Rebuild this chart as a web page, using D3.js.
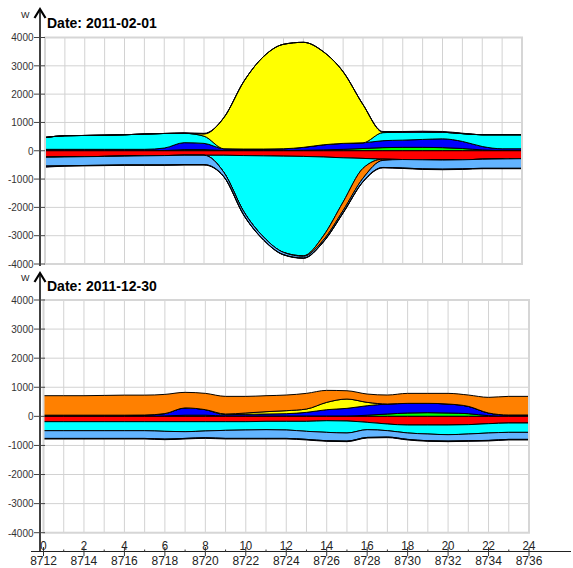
<!DOCTYPE html>
<html><head><meta charset="utf-8">
<script src="https://cdn.jsdelivr.net/npm/d3@7"></script>
<style>body{margin:0;background:#fff}svg{display:block}</style>
</head><body>
<svg id="c" width="573" height="568"></svg>
<script>
// ---------- data ----------
const hours = d3.range(0, 25);
const yTickValues = [4000, 3000, 2000, 1000, 0, -1000, -2000, -3000, -4000];
const xMajorHours = [0, 2, 4, 6, 8, 10, 12, 14, 16, 18, 20, 22, 24];
const xIndexBase = 8712;
const titles = ["Date: 2011-02-01", "Date: 2011-12-30"];

// Chart 1 : 2011-02-01 (W per hour)
const febGreen    = [0,0,0,0,0,0,5,40,40,10,10,10,10,15,30,50,80,110,120,120,110,80,30,10,0];
const febBlue     = [50,50,50,50,50,50,90,245,220,60,50,50,60,105,180,210,200,245,255,280,310,250,120,60,70];
const febCyan     = [420,480,490,500,515,540,515,330,255,-605,-1980,-2870,-3400,-3510,-2790,-1560,-350,285,280,265,235,275,415,495,495];
const febYellow   = [0,0,0,0,0,0,0,0,80,1100,2385,3270,3690,3710,3290,2530,1350,20,0,0,0,0,0,0,0];
const febOrange   = [0,0,0,0,0,0,0,0,0,0,0,0,0,-20,-150,-300,-350,-40,0,0,0,0,0,0,0];
const febMagenta  = [0,0,0,0,0,0,0,20,20,0,0,0,0,0,0,0,0,20,25,25,25,15,0,0,0];
const febRed      = [-230,-220,-210,-200,-190,-180,-170,-160,-160,-160,-170,-180,-190,-200,-220,-250,-270,-300,-310,-320,-330,-320,-300,-290,-280];
const febLightBlue= [-310,-310,-310,-310,-310,-320,-330,-330,-330,-150,-120,-100,-80,-60,-60,-80,-120,-250,-300,-320,-320,-320,-320,-330,-340];
const febNavy     = [-40,-15,-15,-15,-15,-15,-15,-15,-15,-10,-10,-10,-10,-10,-10,-10,-10,-15,-15,-20,-20,-20,-15,-15,-15];

// Chart 2 : 2011-12-30
const decGreen    = [0,0,0,0,0,0,10,40,40,10,10,10,10,10,10,10,40,80,115,126,115,92,23,0,0];
const decBlue     = [40,40,40,40,40,45,85,250,190,47,59,70,82,127,219,265,326,344,332,321,309,251,92,46,46];
const decCyan     = [-310,-310,-310,-310,-310,-310,-332,-344,-320,-298,-286,-286,-297,-343,-400,-412,-252,-229,-274,-309,-332,-321,-320,-321,-321];
const decYellow   = [0,0,0,0,0,0,0,0,0,23,46,80,103,115,252,320,115,0,0,0,0,0,0,0,0];
const decOrange   = [670,670,670,680,690,685,660,535,560,607,572,550,538,538,412,285,286,309,343,343,366,390,538,641,641];
const decMagenta  = [0,0,0,0,0,0,0,0,0,0,0,0,0,0,0,0,0,0,0,0,0,0,0,0,0];
const decRed      = [-183,-183,-183,-183,-183,-183,-183,-183,-183,-183,-183,-172,-172,-172,-150,-160,-206,-263,-298,-298,-298,-286,-252,-229,-229];
const decLightBlue= [-266,-266,-266,-266,-266,-266,-266,-231,-233,-277,-289,-300,-289,-277,-288,-278,-266,-220,-220,-231,-220,-231,-255,-242,-242];
const decNavy     = [-20,-20,-20,-20,-20,-20,-20,-20,-20,-20,-20,-20,-20,-20,-20,-20,-20,-20,-20,-20,-20,-20,-20,-20,-20];

const colors = {
  green: "#00FF00", blue: "#0000FF", cyan: "#00FFFF", yellow: "#FFFF00",
  orange: "#FF8000", magenta: "#B000C0", red: "#FF0000", lightblue: "#62B4FF", navy: "#101070"
};
const posKeys = ["green", "blue", "cyan", "yellow", "orange", "magenta"];
const negKeys = ["red", "cyan", "orange", "lightblue", "navy"];

function rows(s) {
  return hours.map((h, i) => {
    const r = { h };
    for (const k in s) r[k] = s[k][i];
    return r;
  });
}
const febRows = rows({green: febGreen, blue: febBlue, cyan: febCyan, yellow: febYellow, orange: febOrange,
  magenta: febMagenta, red: febRed, lightblue: febLightBlue, navy: febNavy});
const decRows = rows({green: decGreen, blue: decBlue, cyan: decCyan, yellow: decYellow, orange: decOrange,
  magenta: decMagenta, red: decRed, lightblue: decLightBlue, navy: decNavy});

// ---------- drawing ----------
const FONT = "Liberation Sans, Arial, sans-serif";
const svg = d3.select("#c");
svg.append("rect").attr("width", 573).attr("height", 568).attr("fill", "#fff");

const panels = [
  { rows: febRows, title: titles[0], x0: 45, x1: 522, yTop: 37.5, yBot: 264, axisTop: 9, axisBot: 266, titleY: 28, wY: 17.5 },
  { rows: decRows, title: titles[1], x0: 43.5, x1: 529, yTop: 300, yBot: 532.7, axisTop: 273, axisBot: 552, titleY: 291, wY: 281 }
];

panels.forEach((p, pi) => {
  const x = d3.scaleLinear().domain([0, 24]).range([p.x0, p.x1]);
  const y = d3.scaleLinear().domain([-4000, 4000]).range([p.yBot, p.yTop]);
  const g = svg.append("g");

  // grid
  g.append("g").selectAll("line").data(hours).join("line")
    .attr("x1", d => x(d)).attr("x2", d => x(d)).attr("y1", p.yTop).attr("y2", p.yBot)
    .attr("stroke", "#d2d2d2").attr("stroke-width", 1);
  g.append("g").selectAll("line").data(yTickValues).join("line")
    .attr("x1", p.x0).attr("x2", p.x1).attr("y1", d => y(d)).attr("y2", d => y(d))
    .attr("stroke", "#d2d2d2").attr("stroke-width", 1);

  // clip
  const cid = "clip" + pi;
  svg.append("clipPath").attr("id", cid).append("rect")
    .attr("x", p.x0).attr("y", p.yTop).attr("width", p.x1 - p.x0).attr("height", p.yBot - p.yTop);

  const posStack = d3.stack().keys(posKeys).value((d, k) => Math.max(d[k], 0))(p.rows);
  const negStack = d3.stack().keys(negKeys).value((d, k) => Math.min(d[k], 0))(p.rows);
  const area = d3.area().x(d => x(d.data.h)).y0(d => y(d[0])).y1(d => y(d[1])).curve(d3.curveMonotoneX);

  const layers = posStack.concat(negStack).filter(s => s.some(d => Math.abs(d[1] - d[0]) > 0));
  g.append("g").attr("clip-path", `url(#${cid})`).selectAll("path").data(layers).join("path")
    .attr("d", area).attr("fill", s => colors[s.key])
    .attr("stroke", "#000").attr("stroke-width", 1).attr("stroke-linejoin", "round");

  // frame
  g.append("rect").attr("x", p.x0).attr("y", p.yTop).attr("width", p.x1 - p.x0).attr("height", p.yBot - p.yTop)
    .attr("fill", "none").attr("stroke", "#d6d6d6").attr("stroke-width", 2);

  // y axis
  g.append("line").attr("x1", 40).attr("x2", 40).attr("y1", p.axisTop + 1).attr("y2", p.axisBot)
    .attr("stroke", "#000").attr("stroke-width", 1.5);
  g.append("path").attr("d", `M34.5,${p.axisTop + 9} L40,${p.axisTop} L45.5,${p.axisTop + 9}`)
    .attr("fill", "none").attr("stroke", "#000").attr("stroke-width", 2.2);
  g.append("text").attr("x", 21).attr("y", p.wY).text("W")
    .attr("font-family", FONT).attr("font-size", 9).attr("fill", "#222");

  g.append("g").selectAll("line").data(yTickValues).join("line")
    .attr("x1", 34).attr("x2", 45).attr("y1", d => y(d)).attr("y2", d => y(d))
    .attr("stroke", "#444").attr("stroke-width", 1);
  g.append("g").selectAll("text").data(yTickValues).join("text")
    .attr("transform", d => `translate(33.5,${y(d) + 3.8}) scale(1,1.1)`).attr("text-anchor", "end")
    .attr("font-family", FONT).attr("font-size", 10).attr("fill", "#333")
    .text(d => d);

  // title
  g.append("text").attr("x", 47).attr("y", p.titleY).text(p.title)
    .attr("font-family", FONT).attr("font-size", 14)
    .attr("font-weight", "bold").attr("fill", "#000");

  // x axis for bottom panel
  if (pi === 1) {
    const ax = svg.append("g");
    ax.append("line").attr("x1", 31).attr("x2", 571).attr("y1", 551.5).attr("y2", 551.5)
      .attr("stroke", "#222").attr("stroke-width", 1.2);
    ax.append("g").selectAll("line").data(hours).join("line")
      .attr("x1", d => x(d)).attr("x2", d => x(d))
      .attr("y1", d => d % 2 === 0 ? 547 : 549.5).attr("y2", d => d % 2 === 0 ? 556 : 552)
      .attr("stroke", "#333").attr("stroke-width", 1);
    ax.append("g").selectAll("text").data(xMajorHours).join("text")
      .attr("transform", d => `translate(${x(d)},550) scale(1,1.15)`).attr("text-anchor", "middle")
      .attr("font-family", FONT).attr("font-size", 11.5).attr("fill", "#222")
      .text(d => d);
    ax.append("g").selectAll("text").data(xMajorHours).join("text")
      .attr("transform", d => `translate(${x(d)},564.5) scale(1,1.1)`).attr("text-anchor", "middle")
      .attr("font-family", FONT).attr("font-size", 12).attr("fill", "#222")
      .text(d => xIndexBase + d);
  }
});
</script>
</body></html>
